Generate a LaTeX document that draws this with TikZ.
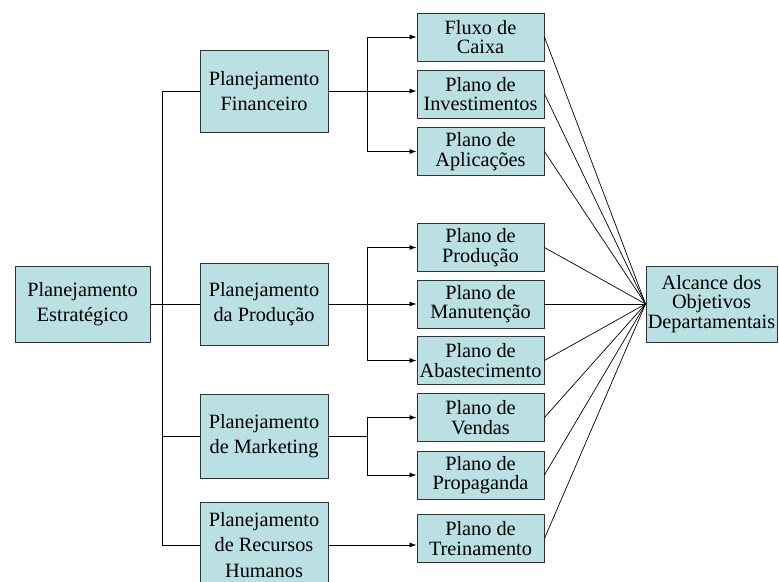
\documentclass[tikz,border=0pt]{standalone}
\usepackage{fontspec}
\setmainfont{Liberation Serif}
\usetikzlibrary{arrows.meta}
\definecolor{boxfill}{RGB}{187,224,227}
\definecolor{boxline}{RGB}{50,50,50}
\tikzset{
  bx/.style={draw=boxline, fill=boxfill, line width=0.9pt, inner sep=0pt, align=center},
  big/.style={bx, minimum width=128pt, minimum height=82pt, font=\fontsize{20.3}{25.5}\selectfont},
  small/.style={bx, minimum width=127pt, minimum height=48pt, font=\fontsize{20.3}{19.5}\selectfont},
  conn/.style={draw=black, line width=0.8pt},
  arr/.style={conn, -{Latex[length=7pt,width=5pt]}},
  ray/.style={draw=black, line width=0.7pt}
}
\begin{document}
\begin{tikzpicture}[x=1pt,y=-1pt]
\useasboundingbox (0,0) rectangle (779,581);
\node[big, minimum width=135pt, minimum height=76pt] (estr) at (82.5,304) {Planejamento\\Estratégico};
\node[big] (fin) at (264,91) {Planejamento\\Financeiro};
\node[big] (prod) at (264,304) {Planejamento\\da Produção};
\node[big, minimum height=84pt] (mkt) at (264,436) {Planejamento\\de Marketing};
\node[big, minimum height=86pt] (rh) at (264,545) {Planejamento\\de Recursos\\Humanos};

\node[small] (fluxo) at (480.5,37) {Fluxo de\\Caixa};
\node[small] (inv) at (480.5,94) {Plano de\\Investimentos};
\node[small] (apl) at (480.5,151.5) {Plano de\\Aplicações};
\node[small] (pdc) at (480.5,247.5) {Plano de\\Produção};
\node[small] (man) at (480.5,304) {Plano de\\Manutenção};
\node[small] (aba) at (480.5,360.5) {Plano de\\Abastecimento};
\node[small] (ven) at (480.5,417.5) {Plano de\\Vendas};
\node[small] (pro) at (480.5,475) {Plano de\\Propaganda};
\node[small] (tre) at (480.5,538.5) {Plano de\\Treinamento};

\node[small, minimum width=131pt, minimum height=76pt] (alc) at (711.5,304) {Alcance dos\\Objetivos\\Departamentais};

% trunk
\draw[conn] (estr.east) -- (prod.west);
\coordinate (t) at ([xshift=12pt]estr.east);
\draw[conn] (fin.west) -| (t);
\draw[conn] (mkt.west) -| (t);
\draw[conn] (rh.west) -| (t);

% branches
\draw[conn] (fin.east) -- ++(38.5,0) coordinate (bf);
\draw[arr] (bf) |- (fluxo.west);
\draw[arr] (bf) -- (bf -| inv.west);
\draw[arr] (bf) |- (apl.west);

\draw[conn] (prod.east) -- ++(38.5,0) coordinate (bp);
\draw[arr] (bp) |- (pdc.west);
\draw[arr] (bp) -- (bp -| man.west);
\draw[arr] (bp) |- (aba.west);

\draw[conn] (mkt.east) -- ++(38.5,0) coordinate (bm);
\draw[arr] (bm) |- (ven.west);
\draw[arr] (bm) |- (pro.west);

\draw[arr] (rh.east) -- (rh.east -| tre.west);

% rays to Alcance
\foreach \n in {fluxo,inv,apl,pdc,man,aba,ven,pro,tre}
  \draw[ray] (\n.east) -- (alc.west);
\end{tikzpicture}
\end{document}
